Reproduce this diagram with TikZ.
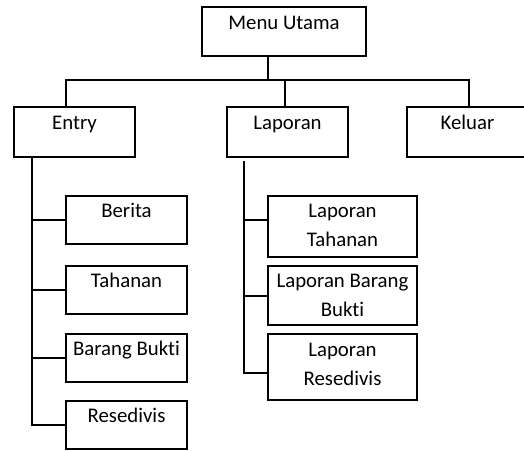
\documentclass[tikz,border=0pt]{standalone}
\usepackage{fontspec}
\setmainfont{Carlito}[Ligatures={NoCommon}]
\begin{document}
\begin{tikzpicture}[x=1pt,y=-1pt,
  box/.style={draw, line width=1.7pt, rectangle, inner sep=0pt},
  txt/.style={font=\fontsize{20.8}{29}\selectfont, inner sep=0pt, anchor=base, align=center},
  link/.style={line width=1.7pt}]
\useasboundingbox (0,0) rectangle (524,450);

% top level
\node[box, minimum width=164pt, minimum height=49pt] (menu) at (284,31.5) {};
\node[txt] (menu-t) at ([yshift=-23.5pt]menu.north) {Menu Utama};

% second level
\node[box, minimum width=121pt, minimum height=50pt] (entry) at (74.5,132) {};
\node[box, minimum width=121pt, minimum height=50pt] (laporan) at (287.5,132) {};
\node[box, minimum width=121pt, minimum height=50pt] (keluar) at (467.5,132) {};
\node[txt] (entry-t) at ([yshift=-23.5pt]entry.north) {Entry};
\node[txt] (laporan-t) at ([yshift=-23.5pt]laporan.north) {Laporan};
\node[txt] (keluar-t) at ([yshift=-23.5pt]keluar.north) {Keluar};

% entry submenu
\node[box, minimum width=121pt, minimum height=48pt] (berita) at (126.5,220) {};
\node[box, minimum width=121pt, minimum height=48pt] (tahanan) at (126.5,290) {};
\node[box, minimum width=121pt, minimum height=48pt] (barang) at (126.5,358) {};
\node[box, minimum width=121pt, minimum height=48pt] (resedivis) at (126.5,425) {};
\node[txt] (berita-t) at ([yshift=-22.5pt]berita.north) {Berita};
\node[txt] (tahanan-t) at ([yshift=-22.5pt]tahanan.north) {Tahanan};
\node[txt] (barang-t) at ([yshift=-22.5pt]barang.north) {Barang Bukti};
\node[txt] (resedivis-t) at ([yshift=-22.5pt]resedivis.north) {Resedivis};

% laporan submenu (two-line labels: base anchor sits on the last line)
\node[box, minimum width=149pt, minimum height=61pt] (lt) at (342.5,226.5) {};
\node[box, minimum width=149pt, minimum height=59pt] (lbb) at (342.5,295.5) {};
\node[box, minimum width=149pt, minimum height=66pt] (lr) at (342.5,367) {};
\node[txt] (lt-t) at ([yshift=-51pt]lt.north) {Laporan\\Tahanan};
\node[txt] (lbb-t) at ([yshift=-51pt]lbb.north) {Laporan Barang\\Bukti};
\node[txt] (lr-t) at ([yshift=-52pt]lr.north) {Laporan\\Resedivis};

% main bus
\coordinate (bus) at (268,80);
\coordinate (busL) at (66,80);
\coordinate (busM) at (285,80);
\coordinate (busR) at (469,80);
\draw[link] (menu.south -| bus) -- (bus);
\draw[link] (entry.north -| busL) -- (busL) -- (busR) -- (keluar.north -| busR);
\draw[link] (busM) -- (laporan.north -| busM);

% entry spine
\coordinate (espine) at (32,0);
\draw[link] (entry.south -| espine) -- (espine |- resedivis.west) -- (resedivis.west);
\draw[link] (espine |- berita.west) -- (berita.west);
\draw[link] (espine |- tahanan.west) -- (tahanan.west);
\draw[link] (espine |- barang.west) -- (barang.west);

% laporan spine
\coordinate (ltop) at (244,161);
\coordinate (lb1) at (244,220);
\coordinate (lb2) at (244,296);
\coordinate (lb3) at (244,373);
\draw[link] (ltop) -- (lb3) -- (lb3 -| lr.west);
\draw[link] (lb1) -- (lb1 -| lt.west);
\draw[link] (lb2) -- (lb2 -| lbb.west);
\end{tikzpicture}
\end{document}
